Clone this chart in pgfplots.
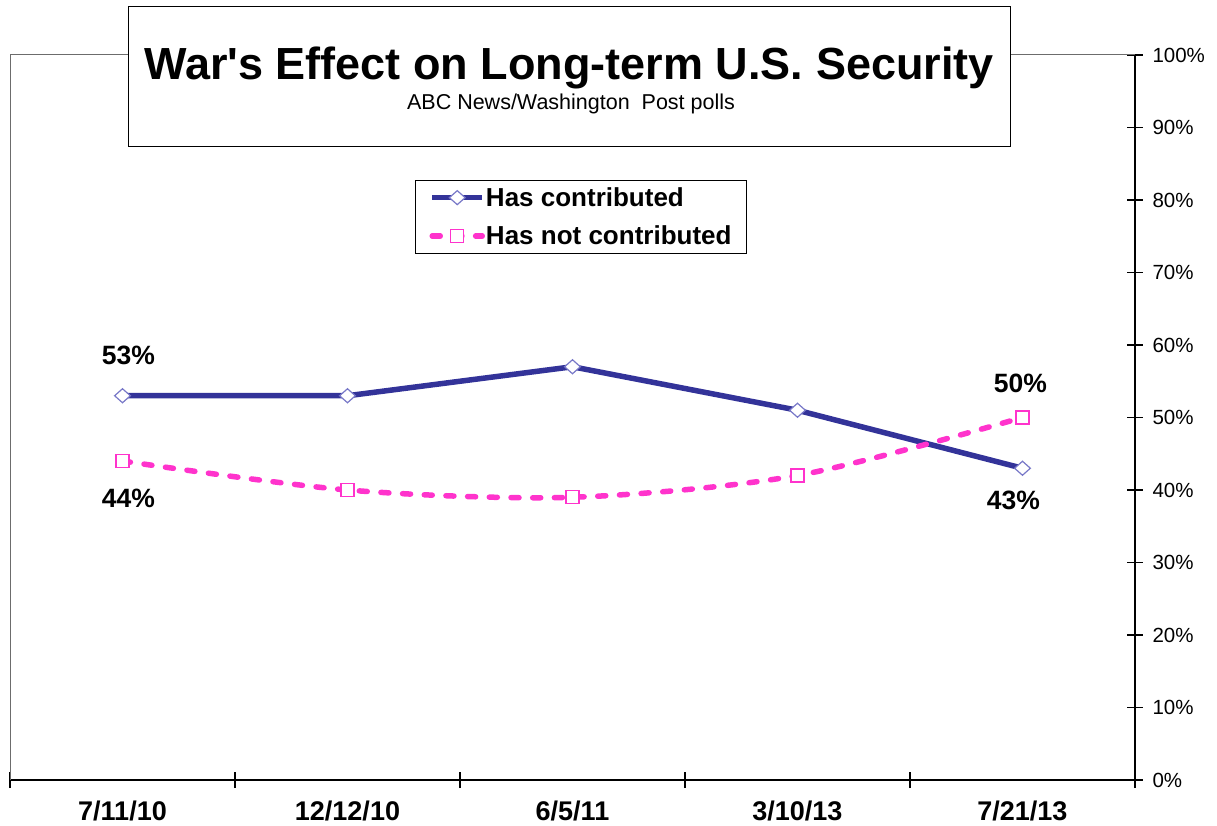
\documentclass[border=0pt]{standalone}
\usepackage{pgfplots}
\pgfplotsset{compat=1.18}
\usepackage{fontspec}
\setmainfont{Liberation Sans}[Ligatures=TeXOff]
\definecolor{navy}{RGB}{51,51,153}
\definecolor{navyedge}{RGB}{120,120,200}
\definecolor{pinkl}{RGB}{255,51,204}
\begin{document}
\begin{tikzpicture}
\useasboundingbox (0,0) rectangle (1217pt,825pt);
\begin{axis}[
  at={(10pt,45pt)}, anchor=south west,
  scale only axis, width=1125pt, height=725pt,
  xmin=0, xmax=5, ymin=0, ymax=100,
  separate axis lines,
  axis x line*=bottom, axis y line*=right,
  axis line style={black, line width=1.3pt, -},
  tick align=center, major tick length=16pt,
  every tick/.style={black, line width=1.3pt},
  xtick={0,1,2,3,4,5},
  xticklabels={,,,,,},
  extra x ticks={0.5,1.5,2.5,3.5,4.5},
  extra x tick labels={7/11/10,12/12/10,6/5/11,3/10/13,7/21/13},
  extra x tick style={major tick length=0pt},
  x tick label style={font=\bfseries\fontsize{27}{32}\selectfont, yshift=-17pt},
  ytick={0,10,...,100},
  yticklabel={\pgfmathprintnumber{\tick}\%},
  y tick label style={font=\fontsize{20.5}{24}\selectfont, anchor=west, xshift=6pt},
  /pgf/number format/assume math mode=true,
  legend style={at={(rel axis cs:0.36,0.8276)}, anchor=north west, draw=black, line width=1pt,
    font=\bfseries\fontsize{26}{31}\selectfont, row sep=14pt, inner xsep=14pt, inner ysep=5pt,
    nodes={inner xsep=1pt}},
  legend cell align=left,
  legend image code/.code={\draw[mark repeat=2,mark phase=2,#1] plot coordinates {(0pt,0pt) (25pt,0pt) (50pt,0pt)};},
  clip=false,
]
\draw[gray!85!black, line width=1pt] (rel axis cs:0,0) -- (rel axis cs:0,1) -- (rel axis cs:1,1);
\addplot[navy, line width=5.5pt, mark=diamond*, mark size=7pt,
  mark options={fill=white, draw=navyedge, line width=1.2pt, solid, xscale=1.5}]
  coordinates {(0.5,53)(1.5,53)(2.5,57)(3.5,51)(4.5,43)};
\addlegendentry{Has contributed}
\addplot[pinkl, line width=5.5pt, line cap=round, dash pattern=on 8pt off 13.7pt, smooth, mark=square*, mark size=6.5pt,
  mark options={fill=white, draw=pinkl, line width=1.2pt, solid}]
  coordinates {(0.5,44)(1.5,40)(2.5,39)(3.5,42)(4.5,50)};
\addlegendentry{Has not contributed}
\node[font=\bfseries\fontsize{26.5}{31}\selectfont, xshift=6pt, yshift=40pt] at (axis cs:0.5,53) {53\%};
\node[font=\bfseries\fontsize{26.5}{31}\selectfont, xshift=6pt, yshift=-37pt] at (axis cs:0.5,44) {44\%};
\node[font=\bfseries\fontsize{26.5}{31}\selectfont, xshift=-2pt, yshift=34pt] at (axis cs:4.5,50) {50\%};
\node[font=\bfseries\fontsize{26.5}{31}\selectfont, xshift=-9pt, yshift=-32pt] at (axis cs:4.5,43) {43\%};
\end{axis}
\draw[line width=1pt, fill=white] (128pt,818pt) rectangle (1010pt,678pt);
\node[font=\bfseries\fontsize{45}{54}\selectfont, anchor=base] at (569pt,745pt) {War's Effect on Long-term U.S. Security};
\node[font=\fontsize{21.5}{26}\selectfont, anchor=base] at (571pt,715pt) {ABC News/Washington\ \ Post polls};
\end{tikzpicture}
\end{document}
